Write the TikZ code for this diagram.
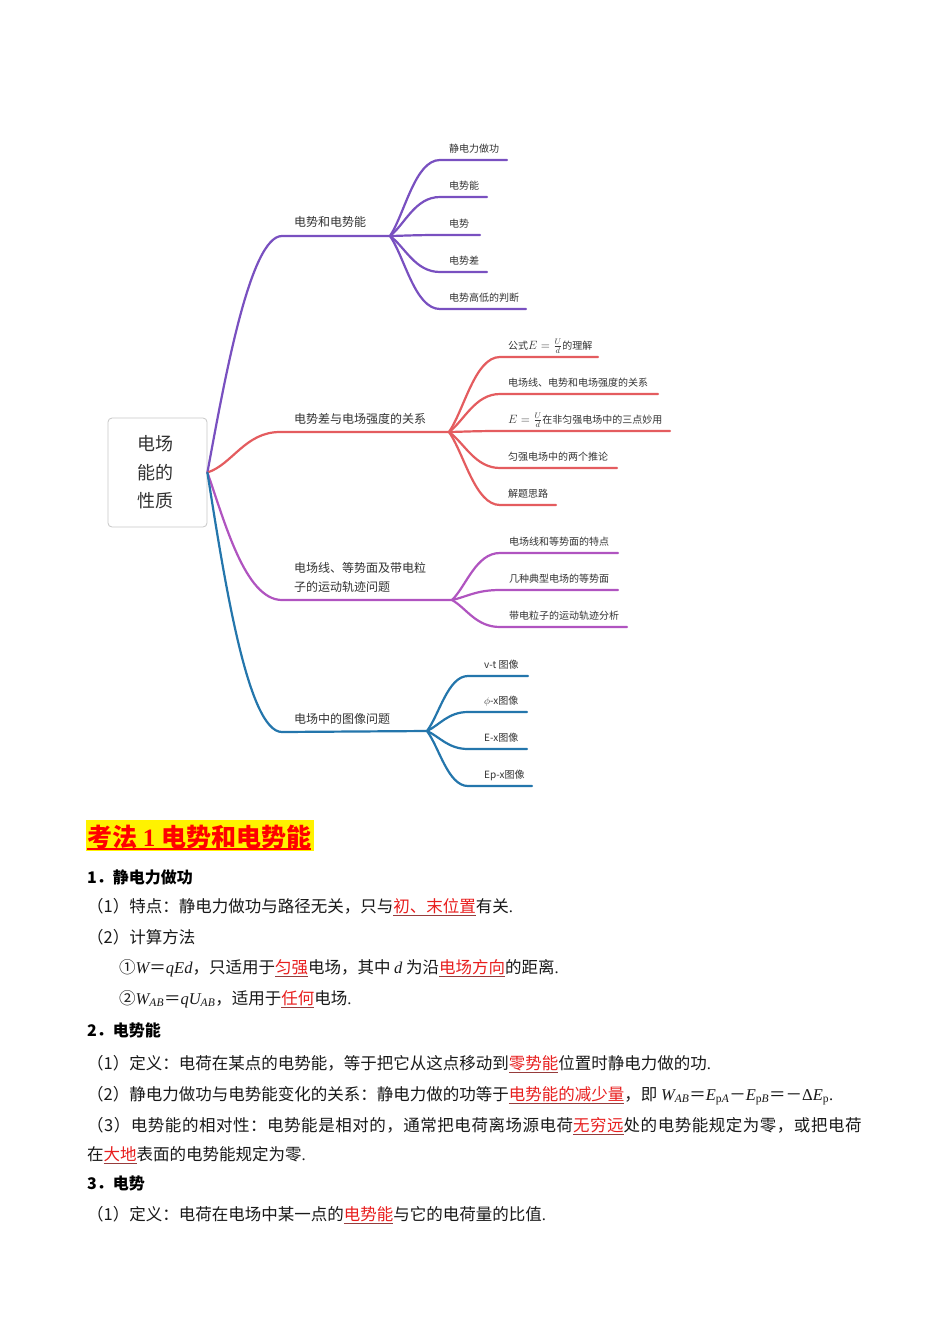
\documentclass[tikz,border=0pt]{standalone}
\usepackage[no-math]{fontspec}
\setmainfont{Liberation Serif}
\newfontfamily\cjk{Noto Sans CJK SC}
\newfontfamily\cjkwide[LetterSpace=3.2]{Noto Sans CJK SC}
\usetikzlibrary{calc}
\definecolor{cpur}{RGB}{121,80,192}
\definecolor{cred}{RGB}{228,92,95}
\definecolor{cmag}{RGB}{176,84,192}
\definecolor{cblu}{RGB}{36,118,172}
\definecolor{mmtext}{RGB}{51,51,51}
\definecolor{kred}{RGB}{232,30,30}
\definecolor{ulc}{RGB}{150,60,60}
\newcommand\kw[1]{\textcolor{ulc}{\underline{\textcolor{kred}{#1}}}}
\newcommand\ti[1]{{\rmfamily\itshape #1}}
\newcommand\sbi[1]{\textsubscript{\rmfamily\itshape #1}}
\newcommand\per{{\rmfamily .}}
\newcommand\mEUd{{\fontsize{12}{12}\selectfont$E=\frac{U}{d}$}}
\begin{document}
\begin{tikzpicture}[x=1pt,y=-1pt,
  branch/.style={line width=2.2pt, line cap=round},
  mmleaf/.style={font=\cjk\fontsize{10}{12}\selectfont, text=mmtext, anchor=west, inner sep=0},
  mmlabel/.style={font=\cjk\fontsize{12}{19}\selectfont, text=mmtext, anchor=west, inner sep=0, align=left},
  body/.style={font=\cjk\fontsize{16.5}{20}\selectfont, anchor=base west, inner sep=0, text=black!90},
  sect/.style={font=\cjk\bfseries\fontsize{16}{20}\selectfont, anchor=base west, inner sep=0, text=black},
]
\useasboundingbox[fill=white] (0,0) rectangle (950,1344);

% root
\node[draw=black!22, fill=white, rounded corners=4pt, minimum width=99pt, minimum height=109pt,
  inner sep=0, line width=0.8pt, align=center, font=\cjk\fontsize{18}{28.5}\selectfont, text=mmtext]
  (root) at (157.5,472.5) {\hspace*{-5pt}电场\\\hspace*{-5pt}能的\\\hspace*{-5pt}性质};

% branch 1
\coordinate (b1s) at (282,236); \coordinate (h1) at (390,236);
\draw[branch,cpur] (root.east) .. controls ($(root.east)+(17,-92)$) and ($(b1s)+(-32,0)$) .. (b1s) -- (h1);
\node[mmlabel] (t1) at (294,222) {电势和电势能};
\foreach \n/\y/\e/\t in {a/160/507/{静电力做功}, b/197/487/{电势能}, c/235/480/{电势}, d/272/487/{电势差}, e/309/526/{电势高低的判断}} {
  \coordinate (l1\n-s) at (440,\y); \coordinate (l1\n-e) at (\e,\y);
  \draw[branch,cpur] (h1) .. controls ($(h1)!0.3!(l1\n-s)$) and ($(l1\n-s)+(-25,0)$) .. (l1\n-s) -- (l1\n-e);
  \node[mmleaf] (n1\n) at (449,\y-11) {\t};
}

% branch 2
\coordinate (b2s) at (280,432); \coordinate (h2) at (449,432);
\draw[branch,cred] (root.east) .. controls ($(root.east)+(25,-8)$) and ($(b2s)+(-35,0)$) .. (b2s) -- (h2);
\node[mmlabel] (t2) at (294,419) {电势差与电场强度的关系};
\foreach \n/\y/\e/\t in {a/357/598/{公式\mEUd 的理解}, b/394/658/{电场线、电势和电场强度的关系}, c/431/670/{\mEUd 在非匀强电场中的三点妙用}, d/468/617/{匀强电场中的两个推论}, e/505/556/{解题思路}} {
  \coordinate (l2\n-s) at (500,\y); \coordinate (l2\n-e) at (\e,\y);
  \draw[branch,cred] (h2) .. controls ($(h2)!0.3!(l2\n-s)$) and ($(l2\n-s)+(-25,0)$) .. (l2\n-s) -- (l2\n-e);
  \node[mmleaf] (n2\n) at (508,\y-11) {\t};
}

% branch 3
\coordinate (b3s) at (282,600); \coordinate (h3) at (452,600);
\draw[branch,cmag] (root.east) .. controls ($(root.east)+(17,48)$) and ($(b3s)+(-37,0)$) .. (b3s) -- (h3);
\node[mmlabel] (t3) at (294,577.5) {电场线、等势面及带电粒\\子的运动轨迹问题};
\foreach \n/\y/\e/\t in {a/553/618/{电场线和等势面的特点}, b/590/618/{几种典型电场的等势面}, c/627/627/{带电粒子的运动轨迹分析}} {
  \coordinate (l3\n-s) at (500,\y); \coordinate (l3\n-e) at (\e,\y);
  \draw[branch,cmag] (h3) .. controls ($(h3)!0.3!(l3\n-s)$) and ($(l3\n-s)+(-24,0)$) .. (l3\n-s) -- (l3\n-e);
  \node[mmleaf] (n3\n) at (509,\y-11) {\t};
}

% branch 4
\coordinate (b4s) at (282,732); \coordinate (h4) at (427,731);
\draw[branch,cblu] (root.east) .. controls ($(root.east)+(17,108)$) and ($(b4s)+(-34,0)$) .. (b4s) -- (h4);
\node[mmlabel] (t4) at (294,719) {电场中的图像问题};
\foreach \n/\y/\e/\t in {a/676/528/{v-t 图像}, b/712/527/{$\phi$-x图像}, c/749/527/{E-x图像}, d/786/532/{Ep-x图像}} {
  \coordinate (l4\n-s) at (468,\y); \coordinate (l4\n-e) at (\e,\y);
  \draw[branch,cblu] (h4) .. controls ($(h4)!0.3!(l4\n-s)$) and ($(l4\n-s)+(-20,0)$) .. (l4\n-s) -- (l4\n-e);
  \node[mmleaf] (n4\n) at (484,\y-11) {\t};
}

% heading
\fill[yellow] (86,820) rectangle (314,851);
\node[font=\cjk\bfseries\fontsize{25}{30}\selectfont, text=red, anchor=base west, inner sep=0]
  (head) at (87,846) {考法 {\rmfamily\bfseries 1} 电势和电势能};
\draw[red, line width=1.6pt] ($(head.base west)+(0,3)$) -- ($(head.base east)+(0,3)$);

% text
\node[sect] (s1) at (87,883) {1．静电力做功};
\node[body] (p1) at (87,912) {（1）特点：静电力做功与路径无关，只与\kw{初、末位置}有关\per};
\node[body] (p2) at (87,943) {（2）计算方法};
\node[body] (p3) at (119,973) {①\ti{W}＝\ti{qEd}，只适用于\kw{匀强}电场，其中 \ti{d} 为沿\kw{电场方向}的距离\per};
\node[body] (p4) at (119,1004) {②\ti{W}\sbi{AB}＝\ti{qU}\sbi{AB}，适用于\kw{任何}电场\per};
\node[sect] (s2) at (87,1036) {2．电势能};
\node[body] (p5) at (87,1069) {（1）定义：电荷在某点的电势能，等于把它从这点移动到\kw{零势能}位置时静电力做的功\per};
\node[body] (p6) at (87,1100) {（2）静电力做功与电势能变化的关系：静电力做的功等于\kw{电势能的减少量}，即 \ti{W}\sbi{AB}＝\ti{E}\textsubscript{\rmfamily p\itshape A}－\ti{E}\textsubscript{\rmfamily p\itshape B}＝－{\rmfamily Δ}\ti{E}\textsubscript{\rmfamily p}\per};
\node[body, font=\cjkwide\fontsize{16.5}{20}\selectfont] (p7) at (87,1131) {（3）电势能的相对性：电势能是相对的，通常把电荷离场源电荷\kw{无穷远}处的电势能规定为零，或把电荷};
\node[body] (p8) at (87,1160) {在\kw{大地}表面的电势能规定为零\per};
\node[sect] (s3) at (87,1189) {3．电势};
\node[body] (p9) at (87,1220) {（1）定义：电荷在电场中某一点的\kw{电势能}与它的电荷量的比值\per};
\end{tikzpicture}
\end{document}
